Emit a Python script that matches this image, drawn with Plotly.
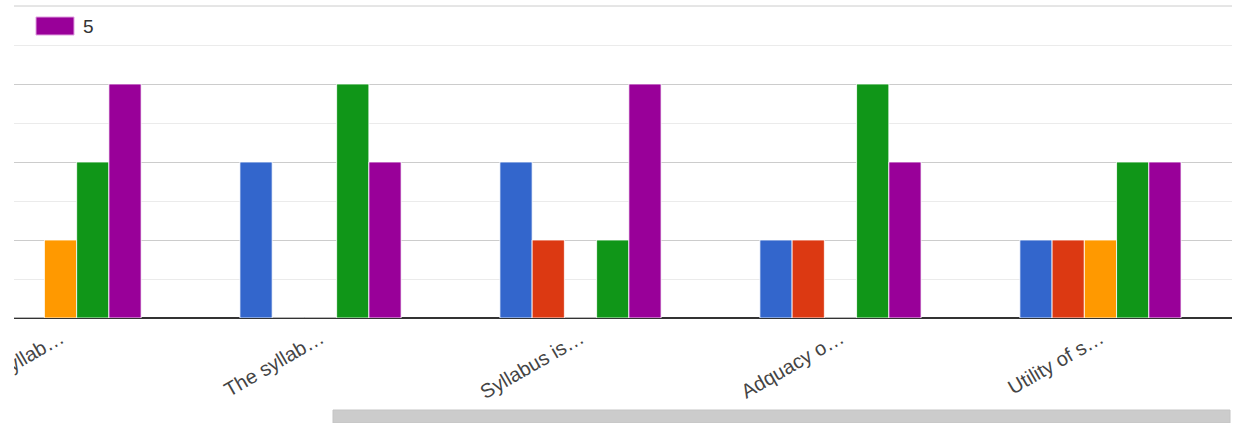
import plotly.graph_objects as go

categories = ["Syllab…", "The syllab…", "Syllabus is…", "Adquacy o…", "Utility of s…"]
series_names = ["1", "2", "3", "4", "5"]
values_1 = [0, 2, 2, 1, 1]
values_2 = [0, 0, 1, 1, 1]
values_3 = [1, 0, 0, 0, 1]
values_4 = [2, 3, 1, 3, 2]
values_5 = [3, 2, 3, 2, 2]
colors = ["#3366cc", "#dc3912", "#ff9900", "#109618", "#990099"]

W, H = 1233, 423
L, R, T, B = 14, 1, 6, 105
pw = W - L - R
ph = H - T - B

fig = go.Figure()
for name, vals, col in zip(series_names, [values_1, values_2, values_3, values_4, values_5], colors):
    fig.add_trace(go.Bar(
        x=list(range(len(categories))), y=vals, name=name,
        marker=dict(color=col, line=dict(color="rgba(255,255,255,0.8)", width=1)),
        showlegend=False, hoverinfo="skip",
    ))

def px_x(p):
    return (p - L) / pw

def px_y(p):
    return (H - B - p) / ph

shapes = [
    # top gridline
    dict(type="line", xref="paper", yref="paper", x0=0, x1=1, y0=1, y1=1,
         line=dict(color="#cccccc", width=1), layer="below"),
    # legend swatch
    dict(type="rect", xref="paper", yref="paper", x0=px_x(36), x1=px_x(74), y0=px_y(35), y1=px_y(17),
         fillcolor=colors[4], line=dict(color="#e0a0e0", width=1), layer="above"),
    # mask for clipped label (scroll container edge)
    dict(type="rect", xref="paper", yref="paper", x0=px_x(-5), x1=px_x(L), y0=px_y(H), y1=px_y(H - B + 2),
         fillcolor="white", line=dict(width=0), layer="above"),
    # scrollbar
    dict(type="rect", xref="paper", yref="paper", x0=px_x(333), x1=px_x(1230), y0=px_y(423), y1=px_y(410),
         fillcolor="#cccccc", line=dict(color="#c4c4c4", width=1), layer="above"),
]

annotations = [
    dict(text=series_names[4], xref="paper", yref="paper", x=px_x(81), y=px_y(26),
         xanchor="left", yanchor="middle", showarrow=False,
         font=dict(family="Liberation Sans, Arial", size=19, color="#333333")),
]

fig.update_layout(
    width=W, height=H,
    margin=dict(l=L, r=R, t=T, b=B, autoexpand=False),
    paper_bgcolor="white", plot_bgcolor="white",
    barmode="group", bargap=0.38, bargroupgap=0.0,
    showlegend=False,
    shapes=shapes, annotations=annotations,
    xaxis=dict(
        range=[-0.179, 4.506], tickmode="array",
        tickvals=list(range(len(categories))), ticktext=categories,
        tickangle=-30, showgrid=False, zeroline=False, ticks="",
        showline=False, ticklabeloverflow="allow", automargin=False,
        ticklabelstandoff=4,
        tickfont=dict(family="Liberation Sans, Arial", size=20, color="#444444"),
    ),
    yaxis=dict(
        range=[0, 4], dtick=1, showticklabels=False, ticks="", automargin=False,
        showgrid=True, gridcolor="#cccccc", gridwidth=1,
        zeroline=True, zerolinecolor="#333333", zerolinewidth=2,
        minor=dict(dtick=0.5, showgrid=True, gridcolor="#ebebeb", gridwidth=1),
    ),
)

fig.write_html("out.html", config={"displayModeBar": False},
               post_script="document.body.style.margin='0';document.body.style.padding='0';")
